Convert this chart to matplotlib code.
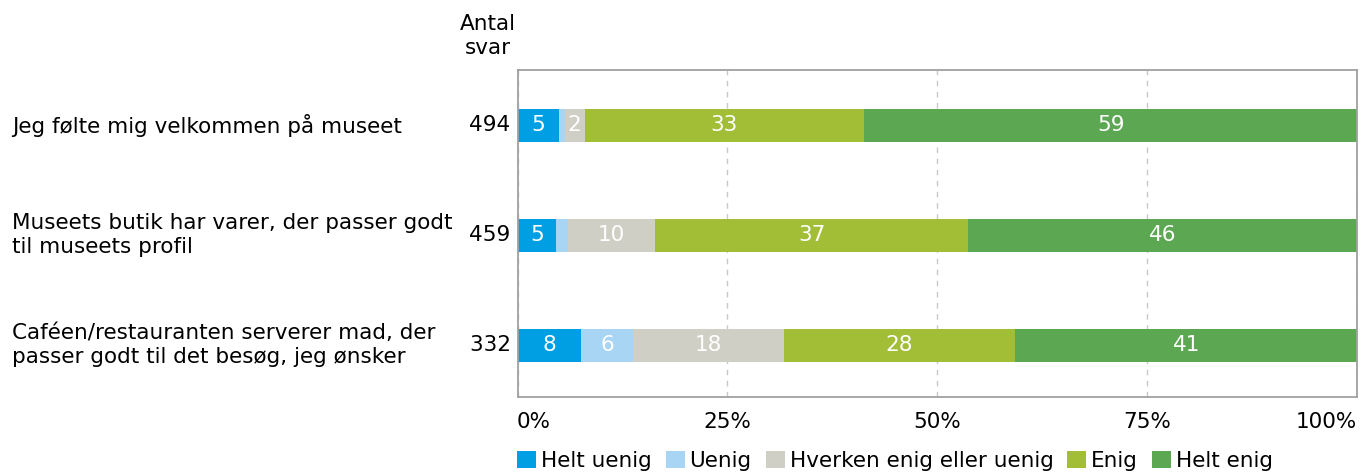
import numpy as np
import matplotlib.pyplot as plt
from matplotlib.patches import Patch

# 数据
categories = [
    "Jeg følte mig velkommen på museet",
    "Museets butik har varer, der passer godt\ntil museets profil",
    "Caféen/restauranten serverer mad, der\npasser godt til det besøg, jeg ønsker",
]
antal_svar = [494, 459, 332]
series_names = ["Helt uenig", "Uenig", "Hverken enig eller uenig", "Enig", "Helt enig"]
helt_uenig = [5.0, 4.6, 7.6]
uenig = [0.6, 1.4, 6.1]
hverken = [2.4, 10.4, 18.0]
enig = [33.3, 37.3, 27.6]
helt_enig = [58.7, 46.3, 40.7]
series_values = [helt_uenig, uenig, hverken, enig, helt_enig]
colors = ["#009FE3", "#A9D5F5", "#CFCFC6", "#A2BE37", "#5BA752"]
xticks = [0, 25, 50, 75, 100]
xtick_labels = ["0%", "25%", "50%", "75%", "100%"]

plt.rcParams['font.family'] = ['DejaVu Sans']
fs = 15.5

fig = plt.figure(figsize=(13.61, 4.75), dpi=100)
W, H = 1361, 475
ax = fig.add_axes([517.5 / W, 1 - 397 / H, 839.5 / W, 327 / H])

y = np.arange(len(categories))
left = np.zeros(len(categories))
for name, vals, col in zip(series_names, series_values, colors):
    vals = np.array(vals)
    ax.barh(y, vals, left=left, height=0.3, color=col, zorder=3)
    for yi, l, v in zip(y, left, vals):
        if v >= 1.5:
            ax.text(l + v / 2, yi, f"{round(v):.0f}", ha='center', va='center',
                    color='white', fontsize=fs, zorder=4)
    left += vals

ax.set_xlim(0, 100)
ax.set_ylim(2.47, -0.5)
ax.set_yticks([])
ax.set_xticks(xticks)
ax.set_xticklabels([])
ax.tick_params(axis='x', length=0)
ax.xaxis.grid(True, linestyle=(0, (4, 4)), color='#C8C8C8', linewidth=1, zorder=0)
for s in ax.spines.values():
    s.set_color('#A0A0A0')
    s.set_linewidth(1.3)
    s.set_zorder(5)

# x tick labels
for xv, lab in zip(xticks, xtick_labels):
    ha = 'left' if xv == 0 else ('right' if xv == 100 else 'center')
    fig.text((517 + 8.4 * xv) / W, 1 - 422 / H, lab, ha=ha, va='center', fontsize=fs)

# category labels and counts
fig.canvas.draw()
for yi, cat, n in zip(y, categories, antal_svar):
    ax.text(-0.0, yi, f"{n} ", transform=ax.get_yaxis_transform(), ha='right',
            va='center', fontsize=fs)
    ypix = ax.transData.transform((0, yi))[1]
    fig.text(12 / W, ypix / H, cat, ha='left', va='center', fontsize=fs, linespacing=1.25)

fig.text(488 / W, 1 - 36 / H, "Antal\nsvar", ha='center', va='center', fontsize=fs,
         linespacing=1.25)

handles = [Patch(facecolor=c, edgecolor='none') for c in colors]
fig.legend(handles, series_names, loc='center left', ncol=5,
           bbox_to_anchor=(517 / W, 1 - 461 / H), frameon=False, fontsize=fs,
           handlelength=0.88, handleheight=0.88, handletextpad=0.23, columnspacing=0.65,
           borderaxespad=0, borderpad=0)

fig.savefig("out.png", dpi=100)
